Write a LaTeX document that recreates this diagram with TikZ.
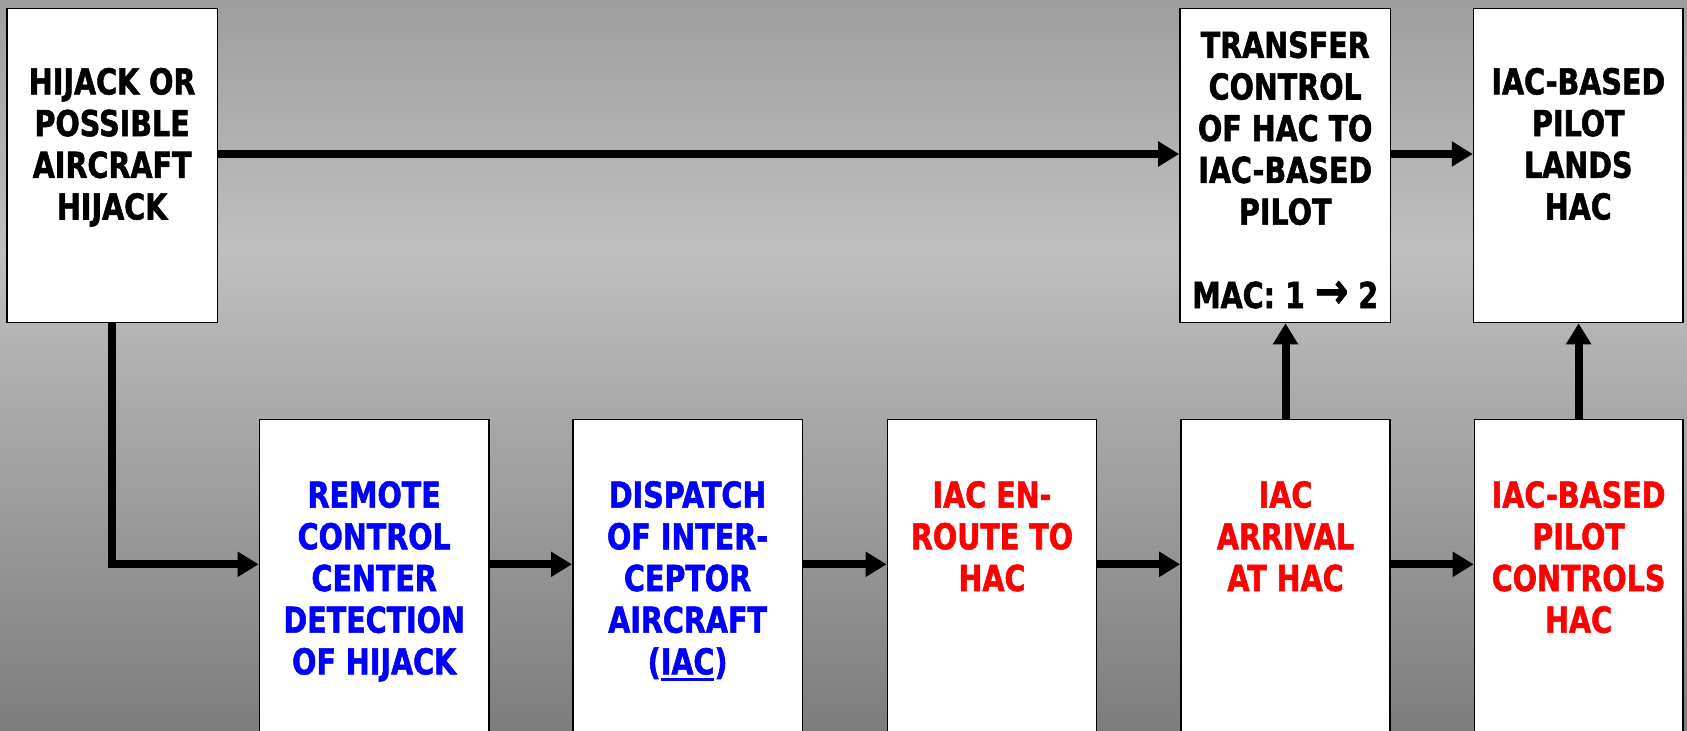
\documentclass[tikz,border=0pt]{standalone}
\usepackage{fontspec}
\usepackage{xcolor}
\usepackage{tikz}
\usetikzlibrary{calc}
\usetikzlibrary{arrows.meta}
\usetikzlibrary{positioning}
\newfontfamily\boxfont{DejaVu Sans}[FakeStretch=0.8, FakeBold=1.5]
\definecolor{bgtop}{gray}{0.62}
\definecolor{bgmid}{gray}{0.75}
\definecolor{bgbot}{gray}{0.49}
\definecolor{stageblue}{RGB}{0,0,255}
\definecolor{stagered}{RGB}{255,0,0}
\newcommand{\ulbox}[1]{\leavevmode\setbox0\hbox{#1}\rlap{\rule[-6.7pt]{\wd0}{3.6pt}}\box0}
\newcommand{\bigarr}{{\fontsize{50}{41.7}\selectfont →}}
\tikzset{>=latex}
\tikzstyle{stage} = [draw=black, fill=white, line width=1.6pt, inner sep=0, minimum height=314pt]
\tikzstyle{txt} = [inner sep=0, anchor=north, align=center, font=\boxfont\bfseries\fontsize{35.7}{41.7}\selectfont]
\tikzstyle{flow} = [-{Triangle[length=21pt, width=24pt]}, line width=8pt]

\begin{document}
\begin{tikzpicture}[x=1pt, y=-1pt]
\useasboundingbox (0,0) rectangle (1687,731);
\clip (0,0) rectangle (1687,731);
\shade [top color=bgtop, bottom color=bgmid] (0,0) rectangle (1687,250);
\shade [top color=bgmid, bottom color=bgbot] (0,250) rectangle (1687,731);
% top row
\node [stage, minimum width=210.5pt] (H) at (112.15, 165.5) {};
\node [stage, minimum width=210.4pt] (T) at (1285.2, 165.5) {};
\node [stage, minimum width=209.4pt] (LD) at (1578.3, 165.5) {};
% bottom row
\node [stage, minimum width=229.6pt] (RC) at (374.2, 576.3) {};
\node [stage, minimum width=229.6pt] (DI) at (687.6, 576.3) {};
\node [stage, minimum width=209.2pt] (ER) at (992, 576.3) {};
\node [stage, minimum width=209pt] (AR) at (1285.5, 576.3) {};
\node [stage, minimum width=208.2pt] (PC) at (1578.6, 576.3) {};
% texts
\node [txt] (tH) at ($(H.north)+(0,60)$) {HIJACK OR\\POSSIBLE\\AIRCRAFT\\HIJACK};
\node [txt] (tT) at ($(T.north)+(0,23.4)$) {TRANSFER\\CONTROL\\OF HAC TO\\IAC-BASED\\PILOT\\[41.7pt]MAC: 1 \bigarr{} 2};
\node [txt] (tLD) at ($(LD.north)+(0,60)$) {IAC-BASED\\PILOT\\LANDS\\HAC};
\node [txt, text=stageblue] (tRC) at ($(RC.north)+(0,62.4)$) {REMOTE\\CONTROL\\CENTER\\DETECTION\\OF HIJACK};
\node [txt, text=stageblue] (tDI) at ($(DI.north)+(0,62.4)$) {DISPATCH\\OF INTER-\\CEPTOR\\AIRCRAFT\\(\ulbox{IAC})};
\node [txt, text=stagered] (tER) at ($(ER.north)+(0,62.4)$) {IAC EN-\\ROUTE TO\\HAC};
\node [txt, text=stagered] (tAR) at ($(AR.north)+(0,62.4)$) {IAC\\ARRIVAL\\AT HAC};
\node [txt, text=stagered] (tPC) at ($(PC.north)+(0,62.4)$) {IAC-BASED\\PILOT\\CONTROLS\\HAC};
% arrows
\coordinate (toprow) at (0, 154);
\coordinate (botrow) at (0, 564.3);
\draw [flow] (H.east |- toprow) to (T.west |- toprow);
\draw [flow] (T.east |- toprow) to (LD.west |- toprow);
\draw [flow] (H.south) |- (RC.west |- botrow);
\draw [flow] (RC.east |- botrow) to (DI.west |- botrow);
\draw [flow] (DI.east |- botrow) to (ER.west |- botrow);
\draw [flow] (ER.east |- botrow) to (AR.west |- botrow);
\draw [flow] (AR.east |- botrow) to (PC.west |- botrow);
\draw [flow] (AR.north) to (AR.north |- T.south);
\draw [flow] (PC.north) to (PC.north |- LD.south);
\end{tikzpicture}
\end{document}
